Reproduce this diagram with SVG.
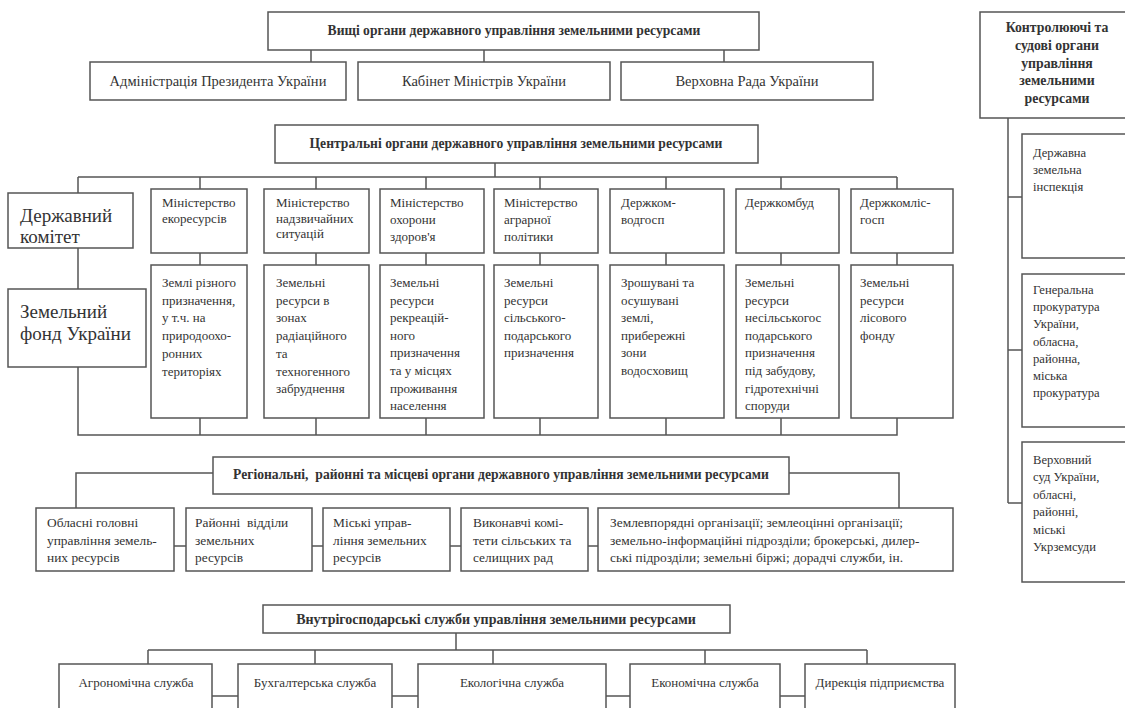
<svg xmlns="http://www.w3.org/2000/svg" width="1125" height="708" viewBox="0 0 1125 708">
<style>
.bx{fill:#fff;stroke:#555;stroke-width:1.5}
.ln{stroke:#555;stroke-width:1.5;fill:none}
text{font-family:"Liberation Serif","Times New Roman",serif;fill:#333;font-size:13px}
.b{font-weight:bold;font-size:13.6px;text-anchor:middle}
.c{text-anchor:middle}
.big{font-size:19px}
.m{font-size:14.5px;text-anchor:middle}
.r{font-size:13.4px}
.s{font-size:12.6px}
.pre{white-space:pre}
</style>
<rect width="1125" height="708" fill="#fff"/>
<g id="connectors" class="ln">
<path d="M311 50V62M484 50V62M724 50V62"/>
<path d="M1008 118V503M1008 197H1022M1008 350H1022M1008 503H1022"/>
<path d="M495 163V177M78 177H897"/>
<path d="M78 177V193M200 177V189M316 177V189M426 177V189M540 177V189M666 177V189M781 177V189M897 177V189"/>
<path d="M200 253V265M316 253V265M426 253V265M540 253V265M666 253V265M781 253V265M897 253V265"/>
<path d="M78 248V289M78 367V435H897V418M200 418V435M316 418V435M426 418V435M540 418V435M666 418V435M781 418V435"/>
<path d="M213 473H76V508M789 473H899V508"/>
<path d="M174 546H186M312 546H323M450 546H461M588 546H598"/>
<path d="M456 633V650M148 650H867M148 650V664M315 650V664M493 650V664M705 650V664M867 650V664"/>
<path d="M212 696H238M392 696H418M606 696H630M780 696H805"/>
</g>
<g id="top"><rect class="bx" x="268" y="12" width="491" height="38"/><text class="b" x="514" y="35">Вищі органи державного управління земельними ресурсами</text></g>
<g id="admin"><rect class="bx" x="90" y="62" width="256" height="38"/><text class="m" x="218" y="86">Адміністрація Президента України</text></g>
<g id="kabmin"><rect class="bx" x="358" y="62" width="252" height="38"/><text class="m" x="484" y="86">Кабінет Міністрів України</text></g>
<g id="rada"><rect class="bx" x="621" y="62" width="252" height="38"/><text class="m" x="747" y="86">Верховна Рада України</text></g>

<g id="ctrl"><rect class="bx" x="980" y="12" width="160" height="106"/><text class="b" x="1057" y="32" style="font-size:13.8px"><tspan x="1057">Контролюючі та</tspan><tspan x="1057" dy="17.8">судові органи</tspan><tspan x="1057" dy="17.8">управління</tspan><tspan x="1057" dy="17.8">земельними</tspan><tspan x="1057" dy="17.8">ресурсами</tspan></text></g>
<g id="ctrl1"><rect class="bx" x="1022" y="134" width="120" height="124"/><text class="s" x="1033" y="157"><tspan x="1033">Державна</tspan><tspan x="1033" dy="17">земельна</tspan><tspan x="1033" dy="17">інспекція</tspan></text></g>
<g id="ctrl2"><rect class="bx" x="1022" y="274" width="120" height="153"/><text class="s" x="1033" y="294"><tspan x="1033">Генеральна</tspan><tspan x="1033" dy="17.2">прокуратура</tspan><tspan x="1033" dy="17.2">України,</tspan><tspan x="1033" dy="17.2">обласна,</tspan><tspan x="1033" dy="17.2">районна,</tspan><tspan x="1033" dy="17.2">міська</tspan><tspan x="1033" dy="17.2">прокуратура</tspan></text></g>
<g id="ctrl3"><rect class="bx" x="1022" y="442" width="120" height="140"/><text class="s" x="1033" y="464"><tspan x="1033">Верховний</tspan><tspan x="1033" dy="17.4">суд України,</tspan><tspan x="1033" dy="17.4">обласні,</tspan><tspan x="1033" dy="17.4">районні,</tspan><tspan x="1033" dy="17.4">міські</tspan><tspan x="1033" dy="17.4">Укрземсуди</tspan></text></g>

<g id="central"><rect class="bx" x="275" y="125" width="483" height="38"/><text class="b" x="516" y="148">Центральні органи державного управління земельними ресурсами</text></g>
<g id="dk"><rect class="bx" x="8" y="193" width="125" height="55"/><text class="big" x="20" y="222"><tspan x="20">Державний</tspan><tspan x="20" dy="21">комітет</tspan></text></g>
<g id="zf"><rect class="bx" x="8" y="289" width="138" height="78"/><text class="big" x="20" y="318"><tspan x="20">Земельний</tspan><tspan x="20" dy="22">фонд України</tspan></text></g>

<g id="a1"><rect class="bx" x="151" y="189" width="96" height="64"/><text x="162" y="207"><tspan x="162">Міністерство</tspan><tspan x="162" dy="16">екоресурсів</tspan></text></g>
<g id="a2"><rect class="bx" x="264" y="189" width="105" height="64"/><text x="276" y="207"><tspan x="276">Міністерство</tspan><tspan x="276" dy="15.5">надзвичайних</tspan><tspan x="276" dy="15.5">ситуацій</tspan></text></g>
<g id="a3"><rect class="bx" x="380" y="189" width="104" height="64"/><text x="390" y="207"><tspan x="390">Міністерство</tspan><tspan x="390" dy="17">охорони</tspan><tspan x="390" dy="17">здоров'я</tspan></text></g>
<g id="a4"><rect class="bx" x="494" y="189" width="104" height="64"/><text x="504" y="207"><tspan x="504">Міністерство</tspan><tspan x="504" dy="17">аграрної</tspan><tspan x="504" dy="17">політики</tspan></text></g>
<g id="a5"><rect class="bx" x="610" y="189" width="114" height="64"/><text x="621" y="207"><tspan x="621">Держком-</tspan><tspan x="621" dy="17">водгосп</tspan></text></g>
<g id="a6"><rect class="bx" x="736" y="189" width="103" height="64"/><text x="745" y="207">Держкомбуд</text></g>
<g id="a7"><rect class="bx" x="851" y="189" width="102" height="64"/><text x="860" y="207"><tspan x="860">Держкомліс-</tspan><tspan x="860" dy="17">госп</tspan></text></g>

<g id="b1"><rect class="bx" x="151" y="265" width="96" height="153"/><text x="162" y="287"><tspan x="162">Землі різного</tspan><tspan x="162" dy="17.7">призначення,</tspan><tspan x="162" dy="17.7">у т.ч. на</tspan><tspan x="162" dy="17.7">природоохо-</tspan><tspan x="162" dy="17.7">ронних</tspan><tspan x="162" dy="17.7">територіях</tspan></text></g>
<g id="b2"><rect class="bx" x="264" y="265" width="105" height="153"/><text x="276" y="287"><tspan x="276">Земельні</tspan><tspan x="276" dy="17.7">ресурси в</tspan><tspan x="276" dy="17.7">зонах</tspan><tspan x="276" dy="17.7">радіаційного</tspan><tspan x="276" dy="17.7">та</tspan><tspan x="276" dy="17.7">техногенного</tspan><tspan x="276" dy="17.7">забруднення</tspan></text></g>
<g id="b3"><rect class="bx" x="380" y="265" width="104" height="153"/><text x="390" y="287"><tspan x="390">Земельні</tspan><tspan x="390" dy="17.6">ресурси</tspan><tspan x="390" dy="17.6">рекреацій-</tspan><tspan x="390" dy="17.6">ного</tspan><tspan x="390" dy="17.6">призначення</tspan><tspan x="390" dy="17.6">та у місцях</tspan><tspan x="390" dy="17.6">проживання</tspan><tspan x="390" dy="17.6">населення</tspan></text></g>
<g id="b4"><rect class="bx" x="494" y="265" width="104" height="153"/><text x="504" y="287"><tspan x="504">Земельні</tspan><tspan x="504" dy="17.6">ресурси</tspan><tspan x="504" dy="17.6">сільського-</tspan><tspan x="504" dy="17.6">подарського</tspan><tspan x="504" dy="17.6">призначення</tspan></text></g>
<g id="b5"><rect class="bx" x="610" y="265" width="114" height="153"/><text x="621" y="287"><tspan x="621">Зрошувані та</tspan><tspan x="621" dy="17.6">осушувані</tspan><tspan x="621" dy="17.6">землі,</tspan><tspan x="621" dy="17.6">прибережні</tspan><tspan x="621" dy="17.6">зони</tspan><tspan x="621" dy="17.6">водосховищ</tspan></text></g>
<g id="b6"><rect class="bx" x="736" y="265" width="103" height="153"/><text x="745" y="287"><tspan x="745">Земельні</tspan><tspan x="745" dy="17.6">ресурси</tspan><tspan x="745" dy="17.6">несільськогос</tspan><tspan x="745" dy="17.6">подарського</tspan><tspan x="745" dy="17.6">призначення</tspan><tspan x="745" dy="17.6">під забудову,</tspan><tspan x="745" dy="17.6">гідротехнічні</tspan><tspan x="745" dy="17.6">споруди</tspan></text></g>
<g id="b7"><rect class="bx" x="851" y="265" width="102" height="153"/><text x="860" y="287"><tspan x="860">Земельні</tspan><tspan x="860" dy="17.6">ресурси</tspan><tspan x="860" dy="17.6">лісового</tspan><tspan x="860" dy="17.6">фонду</tspan></text></g>

<g id="regional"><rect class="bx" x="213" y="457" width="576" height="37"/><text class="b pre" x="501" y="479" style="font-size:13.6px">Регіональні,  районні та місцеві органи державного управління земельними ресурсами</text></g>
<g id="r1"><rect class="bx" x="36" y="508" width="138" height="63"/><text class="r" x="47" y="527"><tspan x="47">Обласні головні</tspan><tspan x="47" dy="17.5">управління земель-</tspan><tspan x="47" dy="17.5">них ресурсів</tspan></text></g>
<g id="r2"><rect class="bx" x="186" y="508" width="126" height="63"/><text class="r pre" x="195" y="527"><tspan x="195">Районні  відділи</tspan><tspan x="195" dy="17.5">земельних</tspan><tspan x="195" dy="17.5">ресурсів</tspan></text></g>
<g id="r3"><rect class="bx" x="323" y="508" width="127" height="63"/><text class="r" x="333" y="527"><tspan x="333">Міські управ-</tspan><tspan x="333" dy="17.5">ління земельних</tspan><tspan x="333" dy="17.5">ресурсів</tspan></text></g>
<g id="r4"><rect class="bx" x="461" y="508" width="127" height="63"/><text class="r" x="473" y="527"><tspan x="473">Виконавчі комі-</tspan><tspan x="473" dy="17.5">тети сільських та</tspan><tspan x="473" dy="17.5">селищних рад</tspan></text></g>
<g id="r5"><rect class="bx" x="598" y="508" width="355" height="63"/><text class="r" x="610" y="527"><tspan x="610">Землевпорядні організації; землеоцінні організації;</tspan><tspan x="610" dy="17.5">земельно-інформаційні підрозділи; брокерські, дилер-</tspan><tspan x="610" dy="17.5">ські підрозділи; земельні біржі; дорадчі служби, ін.</tspan></text></g>

<g id="inner"><rect class="bx" x="263" y="605" width="467" height="28"/><text class="b" x="496" y="624" style="font-size:14px">Внутрігосподарські служби управління земельними ресурсами</text></g>
<g id="s1"><rect class="bx" x="59" y="664" width="153" height="60"/><text class="c" x="136" y="687">Агрономічна служба</text></g>
<g id="s2"><rect class="bx" x="238" y="664" width="154" height="60"/><text class="c" x="315" y="687">Бухгалтерська служба</text></g>
<g id="s3"><rect class="bx" x="418" y="664" width="188" height="60"/><text class="c" x="512" y="687">Екологічна служба</text></g>
<g id="s4"><rect class="bx" x="630" y="664" width="150" height="60"/><text class="c" x="705" y="687">Економічна служба</text></g>
<g id="s5"><rect class="bx" x="805" y="664" width="150" height="60"/><text class="c" x="880" y="687">Дирекція підприємства</text></g>
</svg>
